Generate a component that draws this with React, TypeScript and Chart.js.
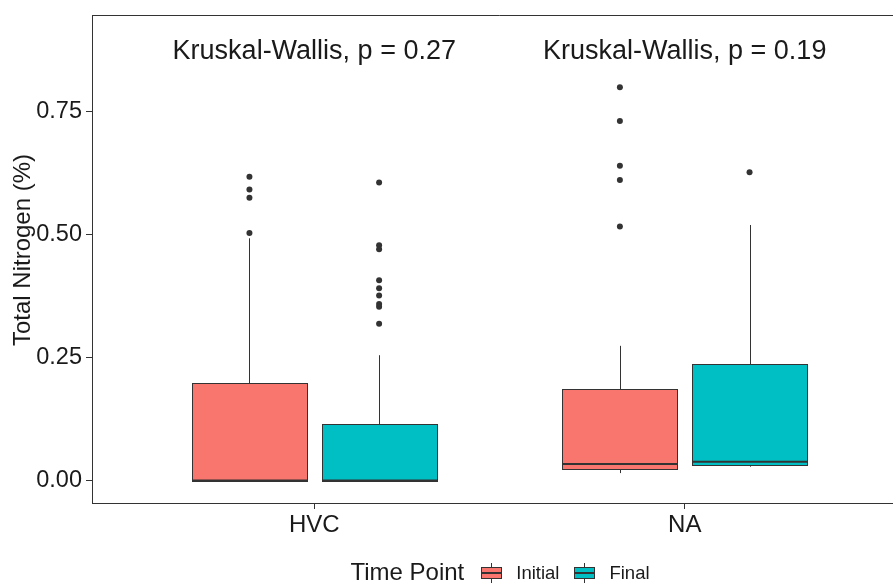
import React, { useEffect, useRef } from 'react';
import { Chart, registerables } from 'chart.js';

Chart.register(...registerables);

// ---------- data ----------
const categories = ['HVC', 'NA'];
const seriesNames = ['Initial', 'Final'];
const seriesColors = ['#F8766D', '#00BFC4'];
const yTickValues = [0, 0.25, 0.5, 0.75];
const pValues = ['0.27', '0.19'];
const yTitle = 'Total Nitrogen (%)';
const legendTitle = 'Time Point';

const initialLower = [0.0, 0.016];
const initialQ1 = [0.0, 0.024];
const initialMedian = [0.001, 0.0345];
const initialQ3 = [0.199, 0.187];
const initialUpper = [0.492, 0.274];
const initialOutliers = [
  [0.617, 0.591, 0.574, 0.503],
  [0.798, 0.73, 0.639, 0.61, 0.516],
];

const finalLower = [0.0, 0.029];
const finalQ1 = [0.0, 0.033];
const finalMedian = [0.001, 0.039];
const finalQ3 = [0.1155, 0.2365];
const finalUpper = [0.255, 0.519];
const finalOutliers = [
  [0.605, 0.478, 0.47, 0.407, 0.391, 0.376, 0.359, 0.353, 0.319],
  [0.626],
];

const FONT = "'Liberation Sans', Arial, Helvetica, sans-serif";
const LINE = '#333333';
const TEXT = '#1a1a1a';

export default function App() {
  const ref = useRef<HTMLCanvasElement>(null);

  useEffect(() => {
    if (!ref.current) return;
    const stats = [
      { lower: initialLower, q1: initialQ1, median: initialMedian, q3: initialQ3, upper: initialUpper, outliers: initialOutliers },
      { lower: finalLower, q1: finalQ1, median: finalMedian, q3: finalQ3, upper: finalUpper, outliers: finalOutliers },
    ];
    const offsets = [-0.175, 0.175];
    const halfW = 0.155;

    const datasets = stats.map((s, si) => ({
      label: seriesNames[si],
      data: s.outliers.flatMap((arr, ci) => arr.map((v) => ({ x: ci + 1 + offsets[si], y: v }))),
      pointRadius: 3,
      pointHoverRadius: 3,
      backgroundColor: LINE,
      borderWidth: 0,
      showLine: false,
    }));

    const boxPlugin = {
      id: 'boxes',
      beforeDatasetsDraw(chart: any) {
        const { ctx, chartArea } = chart;
        const x = chart.scales.x;
        const y = chart.scales.y;
        ctx.save();
        stats.forEach((s, si) => {
          categories.forEach((_c, ci) => {
            const center = ci + 1 + offsets[si];
            const cx = Math.round(x.getPixelForValue(center)) + 0.5;
            const l = Math.round(x.getPixelForValue(center - halfW)) + 0.5;
            const r = Math.round(x.getPixelForValue(center + halfW)) + 0.5;
            const yLow = y.getPixelForValue(s.lower[ci]);
            const yQ1 = Math.round(y.getPixelForValue(s.q1[ci])) + 0.5;
            const yMed = y.getPixelForValue(s.median[ci]);
            const yQ3 = Math.round(y.getPixelForValue(s.q3[ci])) + 0.5;
            const yUp = y.getPixelForValue(s.upper[ci]);
            ctx.strokeStyle = LINE;
            ctx.lineWidth = 1;
            ctx.beginPath();
            ctx.moveTo(cx, yQ3);
            ctx.lineTo(cx, yUp);
            ctx.moveTo(cx, yQ1);
            ctx.lineTo(cx, yLow);
            ctx.stroke();
            ctx.fillStyle = seriesColors[si];
            ctx.fillRect(l, yQ3, r - l, yQ1 - yQ3);
            ctx.strokeRect(l, yQ3, r - l, yQ1 - yQ3);
            ctx.lineWidth = 2;
            ctx.beginPath();
            ctx.moveTo(l, yMed);
            ctx.lineTo(r, yMed);
            ctx.stroke();
          });
        });
        // panel border (top and right)
        ctx.strokeStyle = LINE;
        ctx.lineWidth = 1;
        ctx.beginPath();
        ctx.moveTo(chartArea.left, chartArea.top + 0.5);
        ctx.lineTo(chartArea.right + 0.5, chartArea.top + 0.5);
        ctx.lineTo(chartArea.right + 0.5, chartArea.bottom);
        ctx.stroke();
        ctx.restore();
      },
      afterDraw(chart: any) {
        const { ctx, chartArea } = chart;
        const x = chart.scales.x;
        const y = chart.scales.y;
        ctx.save();
        // Kruskal-Wallis labels
        ctx.font = `27px ${FONT}`;
        ctx.fillStyle = TEXT;
        ctx.textAlign = 'center';
        ctx.textBaseline = 'middle';
        categories.forEach((_c, ci) => {
          ctx.fillText(`Kruskal-Wallis, p = ${pValues[ci]}`, x.getPixelForValue(ci + 1), y.getPixelForValue(0.87));
        });
        // y-axis title
        ctx.save();
        ctx.font = `24px ${FONT}`;
        ctx.translate(30, (chartArea.top + chartArea.bottom) / 2 - 9);
        ctx.rotate(-Math.PI / 2);
        ctx.textAlign = 'center';
        ctx.textBaseline = 'alphabetic';
        ctx.fillText(yTitle, 0, 0);
        ctx.restore();
        // legend
        const cy = 573;
        const titleFont = `24px ${FONT}`;
        const labelFont = `18.5px ${FONT}`;
        ctx.font = titleFont;
        const tw = ctx.measureText(legendTitle).width;
        ctx.font = labelFont;
        const lw = seriesNames.map((n) => ctx.measureText(n).width);
        const keyW = 20;
        const total = tw + 17 + lw.reduce((a, w) => a + keyW + 15 + w, 0) + 15;
        let px = 500 - total / 2;
        ctx.textAlign = 'left';
        ctx.textBaseline = 'middle';
        ctx.font = titleFont;
        ctx.fillStyle = TEXT;
        ctx.fillText(legendTitle, px, cy);
        px += tw + 17;
        seriesNames.forEach((n, si) => {
          const kl = Math.round(px) + 0.5;
          const kc = Math.round(px + keyW / 2) + 0.5;
          ctx.strokeStyle = LINE;
          ctx.lineWidth = 1;
          ctx.beginPath();
          ctx.moveTo(kc, cy - 10);
          ctx.lineTo(kc, cy + 10);
          ctx.stroke();
          ctx.fillStyle = seriesColors[si];
          ctx.fillRect(kl, cy - 5.5, keyW, 11);
          ctx.strokeRect(kl, cy - 5.5, keyW, 11);
          ctx.lineWidth = 2;
          ctx.beginPath();
          ctx.moveTo(kl, cy);
          ctx.lineTo(kl + keyW, cy);
          ctx.stroke();
          px += keyW + 15;
          ctx.font = labelFont;
          ctx.fillStyle = TEXT;
          ctx.fillText(n, px, cy + 1);
          px += lw[si] + 15;
        });
        ctx.restore();
      },
    };

    const chart = new Chart(ref.current, {
      type: 'scatter',
      data: { datasets: datasets as any },
      options: {
        animation: false,
        responsive: false,
        devicePixelRatio: 1,
        layout: { padding: { top: 15, right: 53, left: 0, bottom: 0 } },
        plugins: { legend: { display: false }, tooltip: { enabled: false } },
        scales: {
          x: {
            type: 'linear',
            min: 0.4,
            max: 2.6,
            afterBuildTicks: (scale: any) => {
              scale.ticks = categories.map((_c, i) => ({ value: i + 1 }));
            },
            afterFit: (scale: any) => {
              scale.height = 83;
              scale.paddingLeft = 0;
              scale.paddingRight = 0;
            },
            ticks: {
              callback: (v: any) => categories[Number(v) - 1] ?? '',
              font: { family: FONT, size: 24 },
              color: TEXT,
              padding: 2,
              maxRotation: 0,
              autoSkip: false,
            },
            grid: { drawOnChartArea: false, drawTicks: true, tickLength: 6, color: LINE },
            border: { display: true, color: LINE, width: 1 },
          },
          y: {
            type: 'linear',
            min: -0.0446,
            max: 0.9447,
            afterBuildTicks: (scale: any) => {
              scale.ticks = yTickValues.map((v) => ({ value: v }));
            },
            afterFit: (scale: any) => {
              scale.width = 92;
              scale.paddingTop = 0;
              scale.paddingBottom = 0;
            },
            ticks: {
              callback: (v: any) => Number(v).toFixed(2),
              font: { family: FONT, size: 23.5 },
              color: TEXT,
              padding: 4,
              autoSkip: false,
            },
            grid: { drawOnChartArea: false, drawTicks: true, tickLength: 6, color: LINE },
            border: { display: true, color: LINE, width: 1 },
          },
        },
      },
      plugins: [boxPlugin],
    });
    return () => chart.destroy();
  }, []);

  return (
    <div style={{ position: 'fixed', left: 0, top: 0, width: 893, height: 586, overflow: 'hidden', background: '#ffffff' }}>
      <canvas ref={ref} width={960} height={586} style={{ display: 'block', width: 960, height: 586 }} />
    </div>
  );
}
